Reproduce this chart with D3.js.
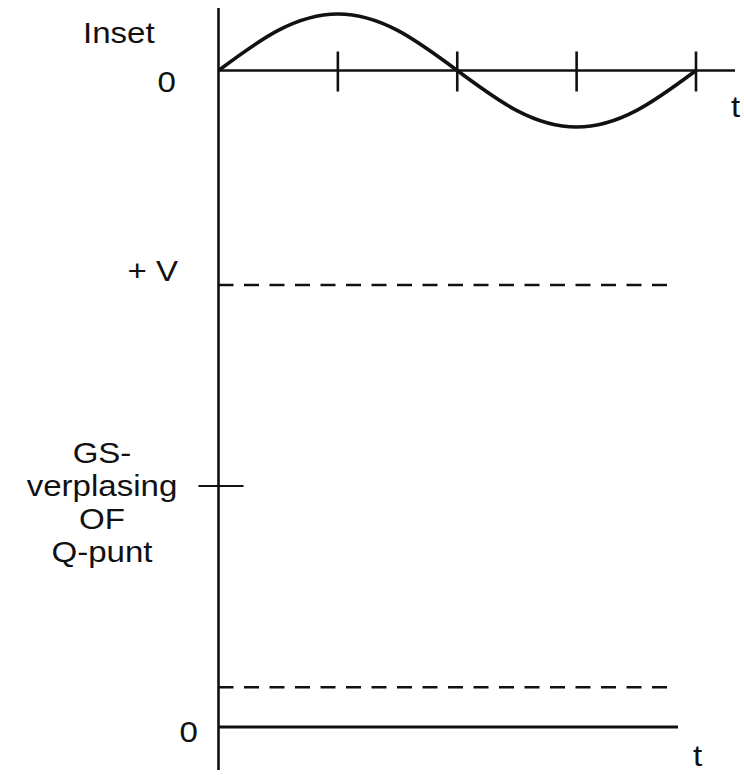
<!DOCTYPE html>
<html>
<head>
<meta charset="utf-8">
<script src="https://cdn.jsdelivr.net/npm/d3@7"></script>
<style>
html,body{margin:0;padding:0;background:#fff;}
svg{display:block;}
text{font-family:"Liberation Sans",Arial,Helvetica,sans-serif;fill:#111;}
</style>
</head>
<body>
<svg id="chart" width="744" height="775"></svg>
<script>
// ---- data ----
// inset signal: time in quarter periods, value relative to amplitude
const insetT = [0, 0.5, 1, 1.5, 2, 2.5, 3, 3.5, 4];
const insetV = [0, 0.71, 1, 0.71, 0, -0.71, -1, -0.71, 0];
const insetTicks = [1, 2, 3, 4];
// main plot levels (fraction of +V)
const levelNames = ["0", "lower", "Q", "+V"];
const levelValues = [0, 0.09, 0.545, 1];
const dashedLevels = [0.09, 1];
const textLines = ["GS-", "verplasing", "OF", "Q-punt"];

const svg = d3.select("#chart");
const ink = "#111";
const AX = 218.5;

// scales
const xInset = d3.scaleLinear().domain([0, 4]).range([AX, 696]);
const yInset = d3.scaleLinear().domain([-1, 1]).range([127, 14]);
const yMain = d3.scaleLinear().domain([0, 1]).range([727, 285]);
const xMainEnd = 678, xDashEnd = 668;

// vertical axis
svg.append("line").attr("x1", AX).attr("x2", AX).attr("y1", 8).attr("y2", 770)
  .attr("stroke", ink).attr("stroke-width", 2.6);

// inset horizontal axis
svg.append("line").attr("x1", AX).attr("x2", 735).attr("y1", yInset(0)).attr("y2", yInset(0))
  .attr("stroke", ink).attr("stroke-width", 2.6);
svg.selectAll(".itick").data(insetTicks).enter().append("line")
  .attr("x1", d => xInset(d)).attr("x2", d => xInset(d))
  .attr("y1", yInset(0) - 19).attr("y2", yInset(0) + 21)
  .attr("stroke", ink).attr("stroke-width", 2.6);

// inset sine curve
const pts = insetT.map((t, i) => [xInset(t), yInset(insetV[i])]);
svg.append("path").attr("d", d3.line().curve(d3.curveNatural)(pts))
  .attr("fill", "none").attr("stroke", ink).attr("stroke-width", 3.6);

// main zero axis
svg.append("line").attr("x1", AX).attr("x2", xMainEnd).attr("y1", yMain(0)).attr("y2", yMain(0))
  .attr("stroke", ink).attr("stroke-width", 2.8);

// dashed levels
svg.selectAll(".dash").data(dashedLevels).enter().append("line")
  .attr("x1", AX).attr("x2", xDashEnd).attr("y1", d => yMain(d)).attr("y2", d => yMain(d))
  .attr("stroke", ink).attr("stroke-width", 2.4).attr("stroke-dasharray", "15 10.5");

// Q-point tick
svg.append("line").attr("x1", AX - 20).attr("x2", AX + 25)
  .attr("y1", yMain(levelValues[2])).attr("y2", yMain(levelValues[2]))
  .attr("stroke", ink).attr("stroke-width", 2);

// text helper
const FS = 29, SX = 1.14;
function label(str, x, y, anchor) {
  svg.append("text").attr("transform", `translate(${x},${y}) scale(${SX},1)`)
    .attr("text-anchor", anchor).attr("font-size", FS).text(str);
}
label("Inset", 83, 43, "start");
label("0", 176, 92, "end");
label("t", 731, 117, "start");
label("+ V", 178, 281, "end");
label("0", 198, 742, "end");
label("t", 693, 766, "start");

const cx = 102, y0 = 463, lh = 33;
textLines.forEach((s, i) => label(s, cx, y0 + i * lh, "middle"));
</script>
</body>
</html>
